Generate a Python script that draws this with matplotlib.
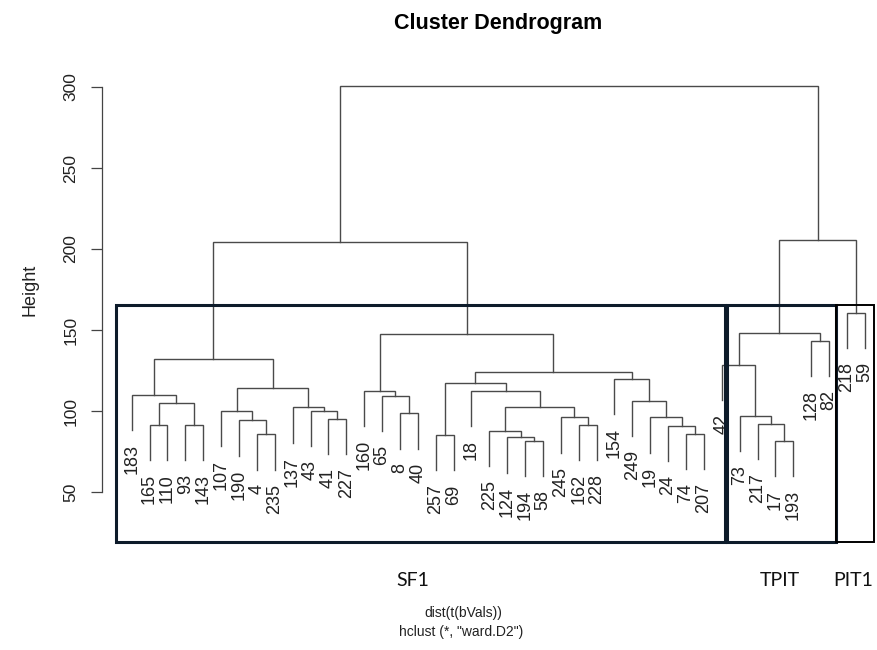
import numpy as np
import matplotlib
matplotlib.use("Agg")
import matplotlib.pyplot as plt
from matplotlib.patches import Rectangle

plt.rcParams['font.family'] = ['Liberation Sans', 'DejaVu Sans']

# leaf labels, in the order they sit on the x axis
labels = ["183", "165", "110", "93", "143", "107", "190", "4", "235", "137",
          "43", "41", "227", "160", "65", "8", "40", "257", "69", "18",
          "225", "124", "194", "58", "245", "162", "228", "154", "249", "19",
          "24", "74", "207", "42", "73", "217", "17", "193", "128", "82",
          "218", "59"]

# merges: a string is a leaf, an int points at an earlier merge (0-based)
merge = [
    ("165", "110"), ("93", "143"), (0, 1), ("183", 2),
    ("4", "235"), ("190", 4), ("107", 5), ("41", "227"), ("43", 7), ("137", 8),
    (6, 9), (3, 10),
    ("8", "40"), ("65", 12), ("160", 13),
    ("257", "69"), ("194", "58"), ("124", 16), ("225", 17), ("162", "228"),
    ("245", 19), (18, 20), ("18", 21), (15, 22),
    ("74", "207"), ("24", 24), ("19", 25), ("249", 26), ("154", 27),
    (23, 28), (14, 29), (11, 30),
    ("17", "193"), ("217", 32), ("73", 33), ("42", 34), ("128", "82"),
    (35, 36), ("218", "59"), (37, 38), (31, 39),
]
heights = [
    91.4, 91.4, 104.7, 109.9,
    85.6, 94.4, 100.0, 95.3, 100.3, 102.3,
    114.0, 131.9,
    98.6, 109.5, 112.5,
    85.2, 81.7, 83.8, 87.7, 91.4,
    96.1, 102.7, 112.5, 117.3,
    85.8, 90.9, 96.1, 106.4, 119.8,
    124.3, 147.3, 204.5,
    81.7, 92.0, 97.1, 128.4, 143.4,
    148.0, 160.7, 205.6, 300.8,
]

# annotation boxes drawn over the tree
groups = ["SF1", "TPIT", "PIT1"]

# pixel layout of the reference
W, H = 877, 650
px_x1, px_per_leaf = 131.7, 17.88      # leaf 1 position, spacing
px_y100, px_per_unit = 411.0, 1.62     # height 100 position, scale


def to_x(px):
    return 1 + (px - px_x1) / px_per_leaf


def to_h(py):
    return 100 + (px_y100 - py) / px_per_unit


fig = plt.figure(figsize=(W / 100, H / 100), dpi=100)
ax_l, ax_r, ax_t, ax_b = 102, 877, 70, 500
ax = fig.add_axes([ax_l / W, 1 - ax_b / H, (ax_r - ax_l) / W, (ax_b - ax_t) / H])
ax.set_xlim(to_x(ax_l), to_x(ax_r))
ax.set_ylim(to_h(ax_b), to_h(ax_t))

leaf_x = {lab: i + 1 for i, lab in enumerate(labels)}
hang = 0.1 * (max(heights) - min(heights))
line_col = "#4a4a4a"

node_x = []
for k, (a, b) in enumerate(merge):
    h = heights[k]
    xs, ys = [], []
    for c in (a, b):
        if isinstance(c, str):
            xs.append(leaf_x[c])
            ys.append(h - hang)
        else:
            xs.append(node_x[c])
            ys.append(heights[c])
    node_x.append((xs[0] + xs[1]) / 2)
    ax.plot([xs[0], xs[0], xs[1], xs[1]], [ys[0], h, h, ys[1]],
            color=line_col, lw=1.0, solid_joinstyle="miter")
    for c, x, y in zip((a, b), xs, ys):
        if isinstance(c, str):
            ax.annotate(c, (x, y), xytext=(0, -10), textcoords="offset points",
                        rotation=90, ha="center", va="top", fontsize=13,
                        color="#222222", annotation_clip=False)

# y axis in R style
for s in ["top", "right", "bottom"]:
    ax.spines[s].set_visible(False)
ax.spines["left"].set_bounds(50, 300)
ax.spines["left"].set_color("#444444")
ax.spines["left"].set_linewidth(0.9)
ax.set_xticks([])
ax.set_yticks([50, 100, 150, 200, 250, 300])
ax.tick_params(axis="y", length=8, width=0.9, color="#444444", pad=9,
               labelsize=12.5, labelcolor="#222222")
for t in ax.get_yticklabels():
    t.set_rotation(90)
    t.set_va("center")
ax.set_facecolor("none")

# group boxes (pixel extents of the reference)
box_px = [(116, 725, "#0d1b2a", 2.2), (727, 836, "#0d1b2a", 2.2), (836, 874, "#000000", 1.4)]
label_px = [413, 780, 853]
for (x0, x1, col, lw), name, lx in zip(box_px, groups, label_px):
    ax.add_patch(Rectangle((to_x(x0), to_h(542)), to_x(x1) - to_x(x0), to_h(305) - to_h(542),
                           fill=False, edgecolor=col, lw=lw, clip_on=False, zorder=5))
    ax.text(to_x(lx), to_h(580), name, ha="center", va="center", fontsize=14,
            family=["Lato", "DejaVu Sans"], color="#111111")

fig.text(498 / W, 1 - 24 / H, "Cluster Dendrogram", ha="center", va="center",
         fontsize=15.5, fontweight="bold")
fig.text(30 / W, 1 - 290 / H, "Height", ha="center", va="center", rotation=90,
         fontsize=13, color="#222222")
fig.text(463 / W, 1 - 613 / H, "dist(t(bVals))", ha="center", va="center",
         fontsize=10, color="#222222")
fig.text(461 / W, 1 - 632 / H, 'hclust (*, "ward.D2")', ha="center", va="center",
         fontsize=10, color="#222222")

fig.savefig("out.png", dpi=100)
